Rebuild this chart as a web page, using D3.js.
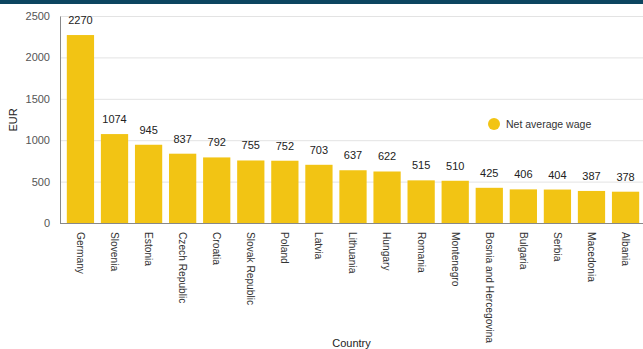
<!DOCTYPE html>
<html>
<head>
<meta charset="utf-8">
<script src="https://cdn.jsdelivr.net/npm/d3@7"></script>
<style>
  body { margin: 0; background: #fff; }
  text { font-family: "Liberation Sans", Arial, sans-serif; }
</style>
</head>
<body>
<div id="chart"></div>
<script>
var svgWidth = 643;
var svgHeight = 349;

var countries = ["Germany", "Slovenia", "Estonia", "Czech Republic", "Croatia", "Slovak Republic",
    "Poland", "Latvia", "Lithuania", "Hungary", "Romania", "Montenegro",
    "Bosnia and Hercegovina", "Bulgaria", "Serbia", "Macedonia", "Albania"];
var wages = [2270, 1074, 945, 837, 792, 755, 752, 703, 637, 622, 515, 510, 425, 406, 404, 387, 378];
var yTicks = [0, 500, 1000, 1500, 2000, 2500];
var seriesName = "Net average wage";

var plot = { left: 60, right: 646, top: 16, bottom: 223 };

var svg = d3.select("#chart")
    .append("svg")
    .attr("width", svgWidth)
    .attr("height", svgHeight);

// top band
svg.append("rect")
    .attr("x", 0).attr("y", 0)
    .attr("width", svgWidth).attr("height", 4)
    .attr("fill", "#0d4560");

var x = d3.scaleBand()
    .domain(countries)
    .range([plot.left, plot.right])
    .paddingInner(0.2)
    .paddingOuter(0.2);

var y = d3.scaleLinear()
    .domain([0, 2500])
    .range([plot.bottom, plot.top]);

// grid lines
svg.append("g")
    .selectAll("line")
    .data(yTicks.filter(d => d > 0))
    .enter()
    .append("line")
    .attr("x1", plot.left)
    .attr("x2", svgWidth)
    .attr("y1", d => y(d) + 0.5)
    .attr("y2", d => y(d) + 0.5)
    .attr("stroke", "#e3e3e3")
    .attr("stroke-width", 1);

// y axis
var leftAxis = d3.axisLeft(y).tickValues(yTicks).tickFormat(d3.format("d")).tickSize(0).tickPadding(10);
var yAxisG = svg.append("g")
    .attr("transform", `translate(${plot.left}, 0)`)
    .call(leftAxis);
yAxisG.select(".domain").attr("stroke", "#888");
yAxisG.selectAll("text")
    .style("font-size", "11px")
    .attr("fill", "#555");

// bars
svg.append("g")
    .selectAll("rect")
    .data(wages)
    .enter()
    .append("rect")
    .attr("x", (d, i) => x(countries[i]))
    .attr("y", d => y(d))
    .attr("width", x.bandwidth())
    .attr("height", d => y(0) - y(d))
    .attr("fill", "#f2c414");

// value labels
svg.append("g")
    .selectAll("text")
    .data(wages)
    .enter()
    .append("text")
    .attr("x", (d, i) => x(countries[i]) + x.bandwidth() / 2)
    .attr("y", d => y(d) - 11)
    .attr("text-anchor", "middle")
    .style("font-size", "11px")
    .attr("fill", "#222")
    .text(d => d);

// x axis
var bottomAxis = d3.axisBottom(x).tickSize(0).tickPadding(0);
var xAxisG = svg.append("g")
    .attr("transform", `translate(0, ${plot.bottom})`)
    .call(bottomAxis);
xAxisG.select(".domain")
    .attr("d", `M${plot.left},0.5H${svgWidth}`)
    .attr("stroke", "#888");
xAxisG.selectAll("text")
    .attr("transform", "rotate(90)")
    .attr("x", 9)
    .attr("y", 0)
    .attr("dy", "0.35em")
    .attr("text-anchor", "start")
    .style("font-size", "10.2px")
    .attr("fill", "#333");

// axis titles
svg.append("text")
    .attr("transform", `translate(${(plot.left + svgWidth) / 2}, 347)`)
    .attr("text-anchor", "middle")
    .style("font-size", "11px")
    .attr("fill", "#222")
    .text("Country");

svg.append("text")
    .attr("transform", `translate(17, 120) rotate(-90)`)
    .attr("text-anchor", "middle")
    .style("font-size", "11px")
    .attr("fill", "#222")
    .text("EUR");

// legend
var legend = svg.append("g").attr("transform", "translate(494, 124)");
legend.append("circle")
    .attr("r", 6)
    .attr("fill", "#f2c414");
legend.append("text")
    .attr("x", 12)
    .attr("dy", "0.35em")
    .style("font-size", "10.5px")
    .attr("fill", "#333")
    .text(seriesName);
</script>
</body>
</html>
